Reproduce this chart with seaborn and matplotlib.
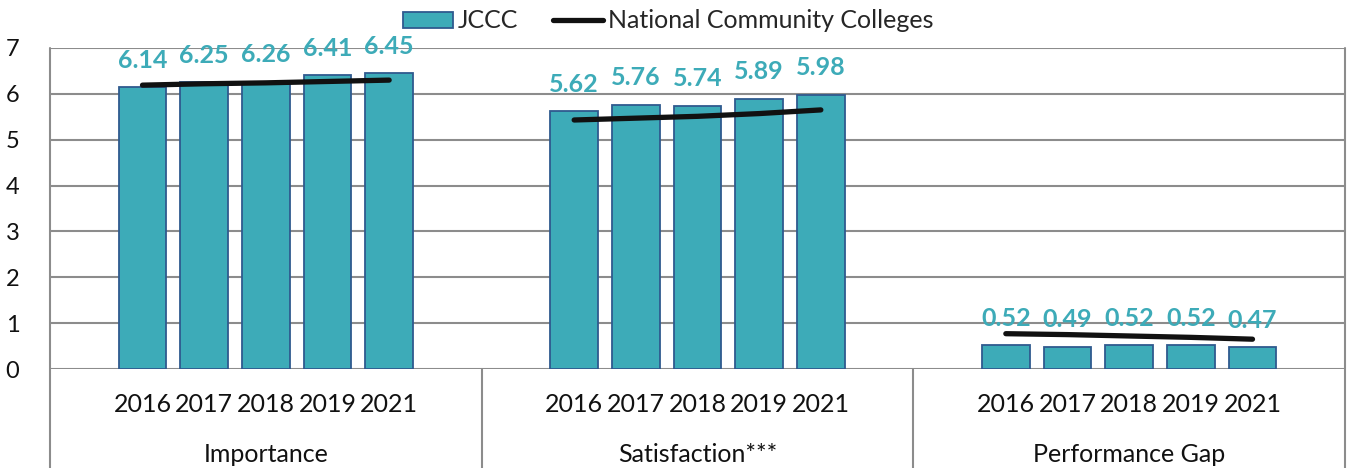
import matplotlib
matplotlib.use("Agg")
import matplotlib.pyplot as plt
import matplotlib.transforms as mtransforms
from matplotlib.patches import Patch
from matplotlib.lines import Line2D
import numpy as np
import pandas as pd
import seaborn as sns

# ---- data ----
groups = ["Importance", "Satisfaction***", "Performance Gap"]
years = ["2016", "2017", "2018", "2019", "2021"]
jccc_importance = [6.14, 6.25, 6.26, 6.41, 6.45]
jccc_satisfaction = [5.62, 5.76, 5.74, 5.89, 5.98]
jccc_gap = [0.52, 0.49, 0.52, 0.52, 0.47]
national_importance = [6.19, 6.22, 6.24, 6.27, 6.30]
national_satisfaction = [5.43, 5.47, 5.51, 5.57, 5.65]
national_gap = [0.77, 0.75, 0.72, 0.69, 0.65]

jccc = [jccc_importance, jccc_satisfaction, jccc_gap]
national = [national_importance, national_satisfaction, national_gap]

TEAL = "#3DABB8"
EDGE = "#2F5A8F"
GRID = "#8C8C8C"
TEXT = "#111111"
FONT = ["Lato", "DejaVu Sans"]

sns.set_theme(style="white")
plt.rcParams["font.family"] = FONT

# each group occupies 7 slots; bars sit in the middle five
SLOTS = 7
rows = []
for g, (name, vals, nat) in enumerate(zip(groups, jccc, national)):
    for i, (yr, v, n) in enumerate(zip(years, vals, nat)):
        rows.append({"group": name, "year": yr, "pos": g * SLOTS + 1.5 + i,
                     "jccc": v, "national": n})
df = pd.DataFrame(rows)

W, H = 1348, 468
fig = plt.figure(figsize=(W / 100, H / 100), dpi=100)
left, right, top, bottom = 50, 1345, 48, 369
ax = fig.add_axes([left / W, 1 - bottom / H, (right - left) / W, (bottom - top) / H])

sns.barplot(data=df, x="pos", y="jccc", native_scale=True, width=0.77,
            color=TEAL, edgecolor=EDGE, linewidth=1.3, saturation=1, ax=ax, zorder=3)

for name in groups:
    sub = df[df["group"] == name]
    sns.lineplot(data=sub, x="pos", y="national", color=TEXT, linewidth=3.8,
                 ax=ax, zorder=4, solid_capstyle="round", legend=False)

for _, r in df.iterrows():
    ax.annotate(f"{r['jccc']:.2f}", (r["pos"], r["jccc"]), xytext=(0, 27),
                textcoords="offset pixels", ha="center", va="center",
                fontsize=18, fontweight="bold", color=TEAL, zorder=5)

ax.set_xlim(0, SLOTS * len(groups))
ax.set_ylim(0, 7)
ax.set_yticks(range(0, 8))
ax.set_yticklabels([str(v) for v in range(0, 8)], fontsize=17, color=TEXT)
ax.tick_params(axis="y", length=0, pad=22)
ax.set_xticks([])
ax.set_xlabel("")
ax.set_ylabel("")
for s in ax.spines.values():
    s.set_visible(False)
for v in range(0, 8):
    ax.axhline(v, color=GRID, linewidth=1.5, zorder=1)

# category axis below the plot
trans = mtransforms.blended_transform_factory(ax.transData, ax.transAxes)
px = 1 / (bottom - top)
below = -(H - bottom) * px
for x in range(0, SLOTS * len(groups) + 1, SLOTS):
    y0 = 1 if x in (0, SLOTS * len(groups)) else 0
    ax.plot([x, x], [y0, below], transform=trans, color=GRID, linewidth=1.5,
            clip_on=False, zorder=2)
for _, r in df.iterrows():
    ax.text(r["pos"], -35 * px, r["year"], transform=trans, ha="center", va="center",
            fontsize=18, color=TEXT)
for g, name in enumerate(groups):
    ax.text(g * SLOTS + SLOTS / 2, -86 * px, name, transform=trans, ha="center",
            va="center", fontsize=18, color=TEXT)

handles = [Patch(facecolor=TEAL, edgecolor=EDGE, linewidth=1.3, label="JCCC"),
           Line2D([0], [0], color=TEXT, linewidth=3.8, label="National Community Colleges")]
fig.legend(handles=handles, loc="center", bbox_to_anchor=(668 / W, 1 - 21 / H), ncol=2,
           frameon=False, fontsize=18, handlelength=2.0, handletextpad=0.2,
           columnspacing=1.4, handleheight=0.6, borderpad=0)

fig.savefig("out.png", dpi=100, facecolor="white")
